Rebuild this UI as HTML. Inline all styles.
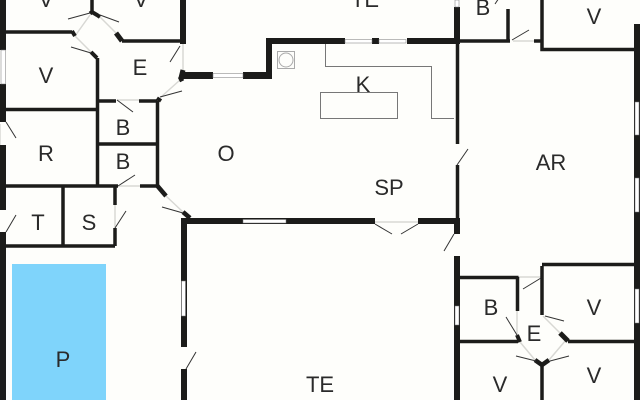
<!DOCTYPE html>
<html><head><meta charset="utf-8"><style>
html,body{margin:0;padding:0;background:#fefefb}
svg{display:block}
text{font-family:"Liberation Sans",sans-serif;font-size:22px;fill:#2a2a2a;text-anchor:middle}
</style></head><body>
<svg width="640" height="400" viewBox="0 0 640 400" xmlns="http://www.w3.org/2000/svg">
<rect width="640" height="400" fill="#fefefb"/>
<rect x="12" y="264" width="94" height="136" fill="#7fd4fb"/>
<!-- light door openings -->
<g stroke="#d8d8d4" stroke-width="1.5" fill="none">
<path d="M75 36L90 15M100 17L116 33M75 36L91 52M183 44V70M180 80L161 97M117 100H139M118 186H140M166 196L183 212M115 205V228M375 222H418M513 41H534M518 277H541M517 311V335M520 342L535 360M549 360L566 340M543 316L560 333M0 124V145"/>
</g>
<!-- thick walls -->
<g fill="#1c1c1a">
<rect x="0" y="0" width="6" height="50"/><rect x="0" y="84" width="6" height="38"/>
<rect x="0" y="145" width="6" height="65"/><rect x="0" y="232" width="6" height="168"/>
<rect x="180" y="0" width="6" height="44"/>
<rect x="183" y="72" width="30" height="7"/><rect x="243" y="72" width="29" height="7"/>
<rect x="266" y="38" width="6" height="41"/>
<rect x="266" y="38" width="79" height="6"/><rect x="372" y="38" width="7" height="6"/><rect x="407" y="38" width="53" height="6"/>
<rect x="454" y="7" width="6" height="37"/>
<rect x="181" y="218" width="194" height="6"/><rect x="418" y="218" width="42" height="6"/>
<rect x="454" y="218" width="6" height="16"/>
<rect x="454" y="256" width="6" height="144"/>
<rect x="181" y="218" width="6" height="129"/><rect x="181" y="369" width="6" height="31"/>
<rect x="634" y="24" width="6" height="376"/>
</g>
<!-- windows -->
<g fill="#fff" stroke="#777" stroke-width=".5">
<rect x="1" y="50" width="4.5" height="34"/>
<rect x="213" y="73.5" width="30" height="4"/>
<rect x="345" y="39.5" width="27" height="3.5"/><rect x="379" y="39.5" width="27" height="3.5"/>
<rect x="243" y="219.5" width="43" height="3.5"/>
<rect x="181.500" y="281" width="4" height="35"/>
<rect x="455" y="0" width="4" height="7"/>
<rect x="635" y="102" width="4" height="33"/><rect x="635" y="178" width="4" height="34"/><rect x="635" y="289" width="4" height="34"/>
<rect x="455" y="306" width="4" height="19"/>
</g>
<!-- thin walls -->
<g stroke="#1c1c1a" stroke-width="3.500" fill="none">
<path d="M6 32H72M92 0V12M122 41H181M97.500 58V186M6 109.500H97.500M97.500 101H116M139 101H157.500M157.500 101V186M97.500 144H157.500M6 186H118M140 186H157.500M63 186V246M6 246H115M115 186V205M115 228V246"/>
<path d="M457.500 44V144M457.500 165V218M460 41H510M508 9V41M534 41H542M542 0V49.500H634M542 264.500H634M542 266V315M460 277.500H518.500M517.500 277V311M460 341.500H518M568 341.500H634M542 365V400"/>
</g>
<g stroke="#1c1c1a" fill="none" stroke-linecap="butt">
<path d="M72 31L75 36M90 13.500L92 12L97 15L100 17M91 52L97 58" stroke-width="4"/>
<path d="M116 33L122 41" stroke-width="5"/>
<path d="M181 78L183 70M183 78L179 80M160 98L158 101" stroke-width="5"/>
<path d="M157.500 186L166 196M183 212L190 218" stroke-width="4.500"/>
<path d="M517 335L520 342" stroke-width="4"/>
<path d="M560 333L568 341" stroke-width="5"/>
<path d="M535 360L542 365L549 360" stroke-width="4.500"/>
</g>
<!-- door leaves -->
<g stroke="#333" stroke-width="1" fill="none">
<path d="M68 19L90 13M100 15L119 22M71 47L91 53M170 62L180 46M160 97L182 91M117 100L133 112M6 122L16 138"/>
<path d="M118 186L135 175M162 207L183 213M115 228L126 211M6 232L16 215M186 369L196 352"/>
<path d="M375 224L392 234M401 234L418 224M512 40L529 30M457 165L468 149M444 251L454 234"/>
<path d="M523 289L541 278M506 317L517 335M545 316L564 321M516 356L536 361M550 361L569 356"/>
<path d="M495 4L499 -2"/>
</g>
<!-- kitchen -->
<g stroke="#777" stroke-width="1" fill="none">
<path d="M325.500 44V66.500H431.500V118.500H454"/>
<rect x="320.500" y="92.500" width="77" height="26"/>
<rect x="277.500" y="51.500" width="17" height="17" stroke="#aaa"/>
<circle cx="286" cy="60" r="7" stroke="#aaa"/>
</g>
<!-- labels -->
<text x="46" y="7">V</text><text x="141" y="7">V</text><text x="365" y="7">TE</text>
<text x="140" y="75">E</text><text x="46" y="83">V</text>
<text x="123" y="135">B</text><text x="123" y="169">B</text><text x="46" y="161">R</text>
<text x="38" y="230">T</text><text x="89" y="230">S</text><text x="63" y="367">P</text>
<text x="226" y="161">O</text><text x="363" y="92">K</text><text x="389" y="195">SP</text>
<text x="551" y="170">AR</text><text x="320" y="392">TE</text>
<text x="483" y="15">B</text><text x="594" y="24">V</text>
<text x="491" y="315">B</text><text x="594" y="315">V</text><text x="534" y="341">E</text>
<text x="500" y="392">V</text><text x="594" y="383">V</text>
</svg>
</body></html>
